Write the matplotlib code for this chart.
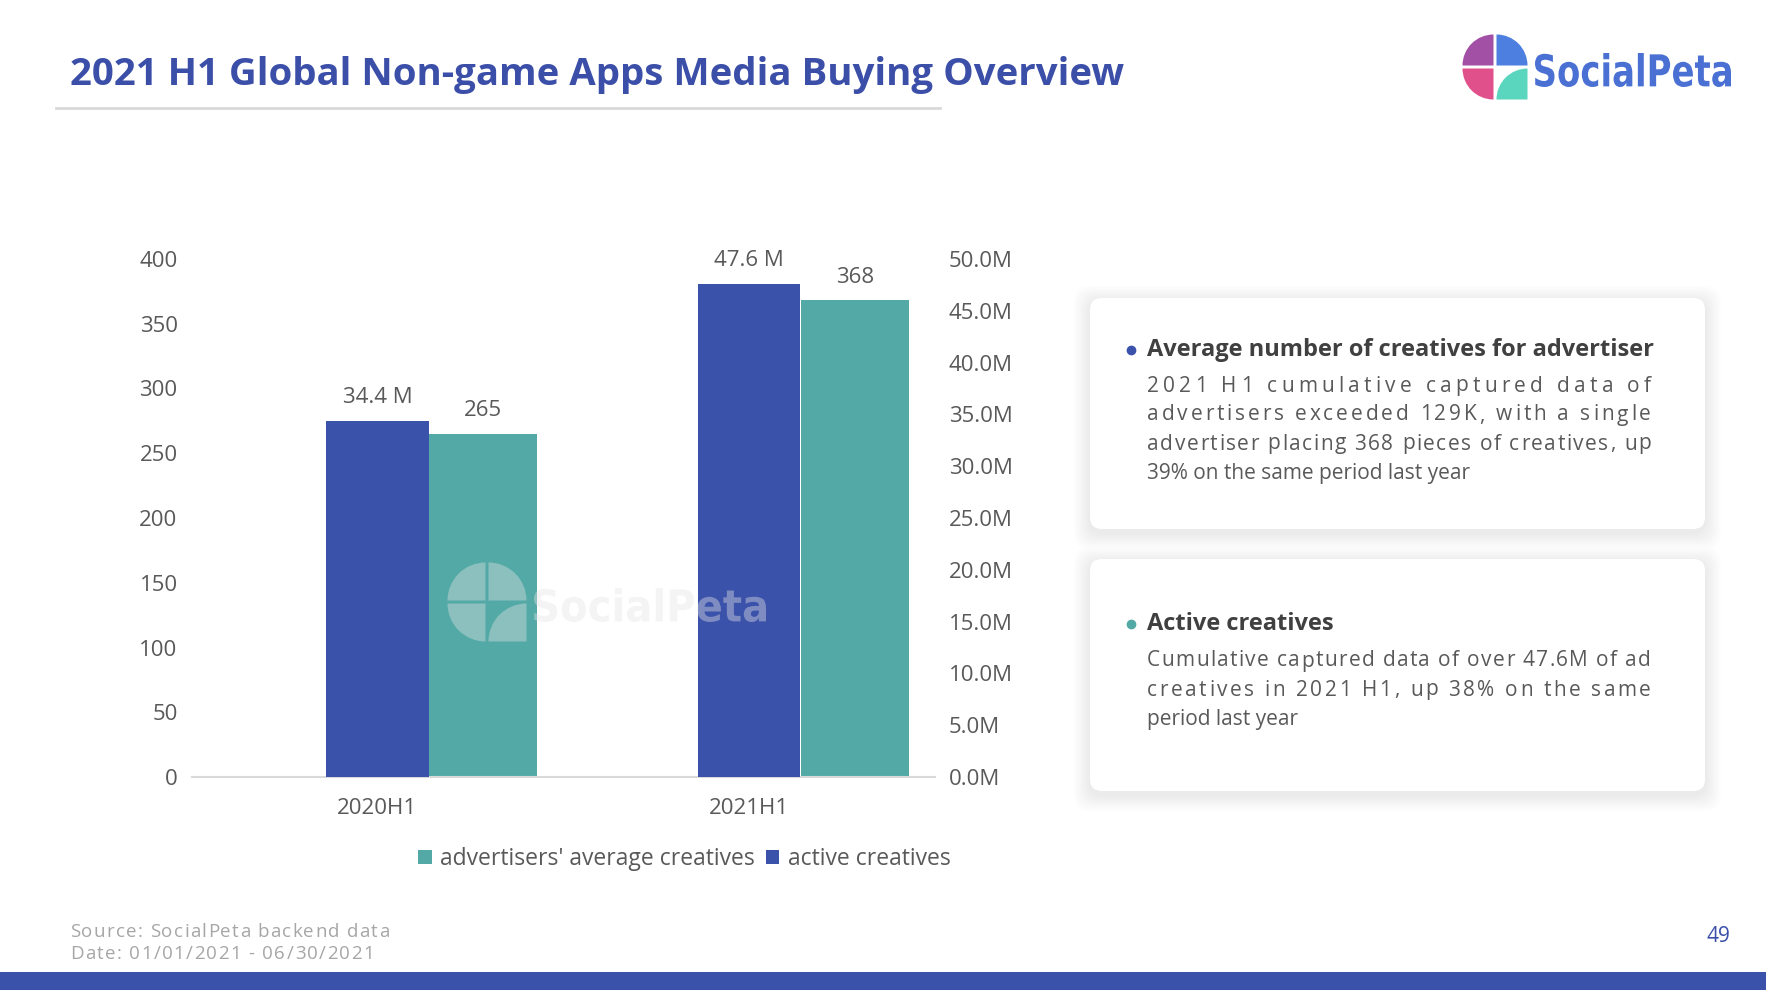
import numpy as np
import matplotlib
matplotlib.use("Agg")
import matplotlib.pyplot as plt
from matplotlib.patches import Wedge, FancyBboxPatch, Rectangle, PathPatch
from matplotlib.textpath import TextPath
from matplotlib.font_manager import FontProperties
from matplotlib.transforms import Affine2D
from matplotlib.ticker import FuncFormatter

# chart data
categories = ["2020H1", "2021H1"]
avg_creatives = [265, 368]            # left axis
active_creatives_m = [34.4, 47.6]     # right axis, millions
left_ticks = [0, 50, 100, 150, 200, 250, 300, 350, 400]
right_ticks_m = [0, 5, 10, 15, 20, 25, 30, 35, 40, 45, 50]
series_names = ["advertisers' average creatives", "active creatives"]

# slide text
title = "2021 H1 Global Non-game Apps Media Buying Overview"
card_titles = ["Average number of creatives for advertiser", "Active creatives"]
card_lines = [
    ["2021 H1 cumulative captured data of",
     "advertisers exceeded 129K, with a single",
     "advertiser placing 368 pieces of creatives, up",
     "39% on the same period last year"],
    ["Cumulative captured data of over 47.6M of ad",
     "creatives in 2021 H1, up 38% on the same",
     "period last year"],
]
footer_lines = ["Source: SocialPeta backend data", "Date: 01/01/2021 - 06/30/2021"]
page_no = "49"

BLUE = "#3B52AB"
TEAL = "#53A9A6"
TITLE_BLUE = "#3B4FA9"
GRAY = "#595959"
DARK = "#404040"

FAMILY = ["Open Sans", "DejaVu Sans"]
plt.rcParams["font.family"] = FAMILY

W, H = 1766, 990
fig = plt.figure(figsize=(W / 100, H / 100), dpi=100)
fig.patch.set_facecolor("white")

# background layer in pixel coordinates (y down)
bg = fig.add_axes([0, 0, 1, 1], zorder=0)
bg.set_xlim(0, W)
bg.set_ylim(H, 0)
bg.axis("off")
renderer = fig.canvas.get_renderer()


def draw_logo(axis, cx, cy, r, gap, colors, alpha=1.0):
    # three quarter discs + one concave quarter
    axis.add_patch(Wedge((cx - gap, cy - gap), r, 180, 270, color=colors[0], alpha=alpha, lw=0))
    axis.add_patch(Wedge((cx + gap, cy - gap), r, 270, 360, color=colors[1], alpha=alpha, lw=0))
    axis.add_patch(Wedge((cx - gap, cy + gap), r, 90, 180, color=colors[2], alpha=alpha, lw=0))
    axis.add_patch(Wedge((cx + gap + r, cy + gap + r), r, 180, 270, color=colors[3], alpha=alpha, lw=0))


def draw_word(axis, text, box, color, alpha=1.0):
    # squeeze a bold text path into the box (x0, y0, x1, y1)
    path = TextPath((0, 0), text, size=50, prop=FontProperties(family="DejaVu Sans", weight="bold"))
    ext = path.get_extents()
    x0, y0, x1, y1 = box
    sx = (x1 - x0) / ext.width
    sy = (y1 - y0) / ext.height
    tr = Affine2D().translate(-ext.x0, -ext.y0).scale(sx, -sy).translate(x0, y1)
    axis.add_patch(PathPatch(tr.transform_path(path), color=color, alpha=alpha, lw=0))


def draw_spaced(axis, x0, y, text, width, size, color, weight="normal"):
    # letter-spaced line stretched to the given pixel width
    prop = FontProperties(family=FAMILY, size=size, weight=weight)

    def adv(s):
        if not s:
            return 0.0
        w1 = renderer.get_text_width_height_descent(s + "|", prop, ismath=False)[0]
        w0 = renderer.get_text_width_height_descent("|", prop, ismath=False)[0]
        return w1 - w0

    extra = (width - adv(text)) / (len(text) - 1)
    for i, c in enumerate(text):
        if c == " ":
            continue
        axis.text(x0 + adv(text[:i]) + i * extra, y, c, fontproperties=prop, color=color,
                  va="center", ha="left")


# title + underline
bg.text(70, 75, title, fontsize=27.6, fontweight="bold", color=TITLE_BLUE, va="center", ha="left")
bg.plot([56, 940], [108, 108], color="#d9d9d9", lw=2)

# top-right logo
draw_logo(bg, 1495, 67, 31, 1.5, ["#A24FA6", "#4C7FE0", "#E0508A", "#5AD6BE"])
draw_word(bg, "SocialPeta", (1535, 53, 1731, 87), "#4A70D4")

# cards with soft shadow
cards = [(1090, 298, 615, 231), (1090, 559, 615, 232)]
for (cx, cy, cw, ch) in cards:
    for i in range(1, 11):
        bg.add_patch(FancyBboxPatch((cx - i * 1.6, cy - i * 1.6 + 4), cw + i * 3.2, ch + i * 3.2,
                                    boxstyle="round,pad=0,rounding_size=16",
                                    fc="black", ec="none", alpha=0.009))
    bg.add_patch(FancyBboxPatch((cx, cy), cw, ch, boxstyle="round,pad=0,rounding_size=12",
                                fc="white", ec="none"))

bullet_colors = [BLUE, TEAL]
heading_y = [350, 624]
body_y0 = [386, 661]
for k in range(2):
    bg.plot(1131, heading_y[k], "o", ms=6, color=bullet_colors[k])
    bg.text(1147, heading_y[k], card_titles[k], fontsize=17, fontweight="bold",
            color=DARK, va="center", ha="left")
    lines = card_lines[k]
    for j, line in enumerate(lines):
        y = body_y0[k] + j * 29
        if j < len(lines) - 1:
            draw_spaced(bg, 1147, y, line, 504, 15, GRAY)
        else:
            bg.text(1147, y, line, fontsize=15, color=GRAY, va="center", ha="left")

# footer
footer_widths = [319, 304]
for j, line in enumerate(footer_lines):
    draw_spaced(bg, 70, 932 + j * 22, line, footer_widths[j], 13.5, "#a6a6a6")
bg.text(1718, 936, page_no, fontsize=15, color=TITLE_BLUE, va="center", ha="center")
bg.add_patch(Rectangle((0, 972), W, 18, color="#3A52A9", lw=0))

# bar chart
ax = fig.add_axes([191.5 / W, 1 - 777 / H, (934.8 - 191.5) / W, (777 - 259) / H], zorder=1)
ax.patch.set_alpha(0)
ax2 = ax.twinx()
x = np.arange(len(categories))
teal_bars = ax.bar(x + 0.285, avg_creatives, width=0.291, color=TEAL, label=series_names[0])
blue_bars = ax2.bar(x, active_creatives_m, width=0.276, color=BLUE, label=series_names[1])

ax.set_xlim(-0.5, 1.5)
ax.set_ylim(0, 400)
ax2.set_ylim(0, 50)
ax.set_yticks(left_ticks)
ax2.set_yticks(right_ticks_m)
ax2.yaxis.set_major_formatter(FuncFormatter(lambda v, p: f"{v:.1f}M"))
ax.set_xticks(x)
ax.set_xticklabels(categories)

for a in (ax, ax2):
    for s in a.spines.values():
        s.set_visible(False)
ax.spines["bottom"].set_visible(True)
ax.spines["bottom"].set_color("#d9d9d9")
ax.spines["bottom"].set_linewidth(1.5)
ax.tick_params(axis="y", length=0, pad=10, labelsize=16, labelcolor=GRAY)
ax2.tick_params(axis="y", length=0, pad=10, labelsize=16, labelcolor=GRAY)
ax.tick_params(axis="x", length=0, pad=15, labelsize=16, labelcolor=GRAY)

ax.bar_label(teal_bars, labels=[str(v) for v in avg_creatives], padding=9, fontsize=16, color=GRAY)
ax2.bar_label(blue_bars, labels=[f"{v:.1f} M" for v in active_creatives_m], padding=9,
              fontsize=16, color=GRAY)

fig.legend(handles=[teal_bars, blue_bars], loc="center", bbox_to_anchor=(684 / W, 1 - 859 / H),
           ncol=2, frameon=False, fontsize=16.5, handlelength=0.6, handleheight=0.6,
           handletextpad=0.35, columnspacing=0.5, labelcolor=GRAY)

# watermark over the bars
wm = fig.add_axes([0, 0, 1, 1], zorder=3)
wm.set_xlim(0, W)
wm.set_ylim(H, 0)
wm.axis("off")
draw_logo(wm, 487, 602, 38, 1.5, ["#e4e4e4"] * 4, alpha=0.4)
draw_word(wm, "SocialPeta", (534, 588, 766, 622), "#e4e4e4", alpha=0.4)

fig.savefig("out.png", dpi=100, facecolor="white")
